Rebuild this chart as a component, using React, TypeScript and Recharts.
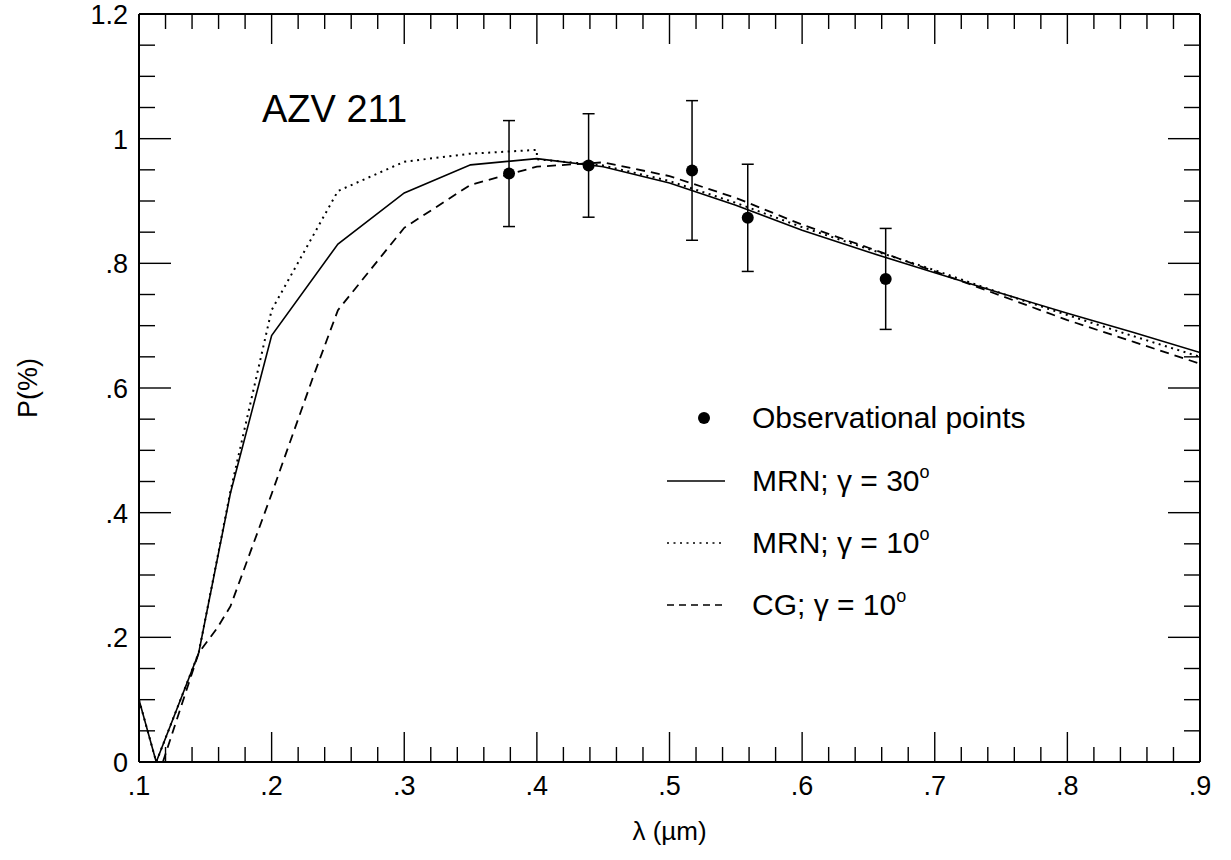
import React from 'react';
import { ComposedChart, Line, Scatter, XAxis, YAxis, ErrorBar, Legend } from 'recharts';

const FONT = '"Liberation Sans", Arial, Helvetica, sans-serif';

// ---- data ----
const mrn30Lambda = [0.1, 0.113, 0.145, 0.169, 0.2, 0.25, 0.3, 0.35, 0.4, 0.45, 0.5, 0.55, 0.6, 0.65, 0.7, 0.75, 0.8, 0.85, 0.9];
const mrn30P = [0.1, 0.0, 0.175, 0.432, 0.684, 0.831, 0.913, 0.958, 0.968, 0.955, 0.929, 0.893, 0.853, 0.818, 0.785, 0.752, 0.72, 0.689, 0.657];

const mrn10Lambda = [0.1, 0.113, 0.145, 0.169, 0.2, 0.25, 0.3, 0.35, 0.4, 0.4, 0.45, 0.5, 0.55, 0.6, 0.65, 0.7, 0.75, 0.8, 0.85, 0.9];
const mrn10P = [0.1, 0.0, 0.175, 0.435, 0.725, 0.916, 0.963, 0.976, 0.982, 0.967, 0.957, 0.932, 0.897, 0.858, 0.823, 0.789, 0.752, 0.717, 0.683, 0.65];

const cg10Lambda = [0.118, 0.145, 0.159, 0.169, 0.2, 0.231, 0.25, 0.3, 0.35, 0.4, 0.45, 0.5, 0.55, 0.6, 0.65, 0.7, 0.75, 0.8, 0.85, 0.9];
const cg10P = [0.0, 0.175, 0.215, 0.25, 0.43, 0.616, 0.725, 0.857, 0.926, 0.955, 0.962, 0.94, 0.905, 0.862, 0.825, 0.787, 0.748, 0.709, 0.674, 0.639];

const obsLambda = [0.379, 0.439, 0.517, 0.559, 0.663];
const obsP = [0.944, 0.957, 0.949, 0.873, 0.775];
const obsErr = [0.085, 0.083, 0.112, 0.086, 0.081];

const xTicks = [0.1, 0.12, 0.14, 0.16, 0.18, 0.2, 0.22, 0.24, 0.26, 0.28, 0.3, 0.32, 0.34, 0.36, 0.38, 0.4, 0.42, 0.44, 0.46, 0.48, 0.5, 0.52, 0.54, 0.56, 0.58, 0.6, 0.62, 0.64, 0.66, 0.68, 0.7, 0.72, 0.74, 0.76, 0.78, 0.8, 0.82, 0.84, 0.86, 0.88, 0.9];
const yTicks = [0, 0.05, 0.1, 0.15, 0.2, 0.25, 0.3, 0.35, 0.4, 0.45, 0.5, 0.55, 0.6, 0.65, 0.7, 0.75, 0.8, 0.85, 0.9, 0.95, 1, 1.05, 1.1, 1.15, 1.2];

const seriesNames = ['Observational points', 'MRN; \u03b3 = 30', 'MRN; \u03b3 = 10', 'CG; \u03b3 = 10'];
const chartTitle = 'AZV 211';
const xTitle = '\u03bb (\u00b5m)';
const yTitle = 'P(%)';

const mrn30 = mrn30Lambda.map((x, i) => ({ x, y: mrn30P[i] }));
const mrn10 = mrn10Lambda.map((x, i) => ({ x, y: mrn10P[i] }));
const cg10 = cg10Lambda.map((x, i) => ({ x, y: cg10P[i] }));
const obs = obsLambda.map((x, i) => ({ x, y: obsP[i], err: obsErr[i] }));

const isMajorX = (v: number) => Math.abs(v * 10 - Math.round(v * 10)) < 1e-6;
const isMajorY = (v: number) => Math.abs(v * 5 - Math.round(v * 5)) < 1e-6;
const fmt = (v: number) => {
  if (Math.abs(v) < 1e-9) return '0';
  if (Math.abs(v - 1) < 1e-9) return '1';
  return v.toFixed(1).replace(/^0/, '');
};

const TICK_FONT = 27;

const BottomTick = (props: any) => {
  const { x, y, payload } = props;
  const major = isMajorX(payload.value);
  return (
    <g>
      <line x1={x} y1={y} x2={x} y2={y - (major ? 30 : 15)} stroke="#000" strokeWidth={1.4} />
      {major && (
        <text x={x} y={y + 33} textAnchor="middle" fontFamily={FONT} fontSize={TICK_FONT} fill="#000">
          {fmt(payload.value)}
        </text>
      )}
    </g>
  );
};

const TopTick = (props: any) => {
  const { x, y, payload } = props;
  const major = isMajorX(payload.value);
  return <line x1={x} y1={y} x2={x} y2={y + (major ? 30 : 15)} stroke="#000" strokeWidth={1.4} />;
};

const LeftTick = (props: any) => {
  const { x, y, payload } = props;
  const major = isMajorY(payload.value);
  return (
    <g>
      <line x1={x} y1={y} x2={x + (major ? 32 : 16)} y2={y} stroke="#000" strokeWidth={1.4} />
      {major && (
        <text x={x - 11} y={y + 10} textAnchor="end" fontFamily={FONT} fontSize={TICK_FONT} fill="#000">
          {fmt(payload.value)}
        </text>
      )}
    </g>
  );
};

const RightTick = (props: any) => {
  const { x, y, payload } = props;
  const major = isMajorY(payload.value);
  return <line x1={x} y1={y} x2={x - (major ? 32 : 16)} y2={y} stroke="#000" strokeWidth={1.4} />;
};

const XTitle = (props: any) => {
  const vb = props.viewBox || {};
  return (
    <text x={vb.x + vb.width / 2} y={vb.y + 78} textAnchor="middle" fontFamily={FONT} fontSize={26} fill="#000">
      {xTitle}
    </text>
  );
};

const YTitle = (props: any) => {
  const vb = props.viewBox || {};
  const cx = vb.x + 37;
  const cy = vb.y + vb.height / 2;
  return (
    <text x={cx} y={cy} transform={`rotate(-90 ${cx} ${cy})`} textAnchor="middle" fontFamily={FONT} fontSize={27} fill="#000">
      {yTitle}
    </text>
  );
};

const LegendBox = () => {
  const rowY = [23, 86, 148, 210];
  const fs = 30;
  const textX = 92;
  const deg = (label: string, y: number) => (
    <text x={textX} y={y + 10} fontFamily={FONT} fontSize={fs} fill="#000">
      {label}
      <tspan dy={-13} fontSize={18}>o</tspan>
    </text>
  );
  return (
    <svg width={420} height={260} style={{ overflow: 'visible' }}>
      <circle cx={44} cy={rowY[0]} r={6} fill="#000" />
      <text x={textX} y={rowY[0] + 10} fontFamily={FONT} fontSize={fs} fill="#000">{seriesNames[0]}</text>
      <line x1={7} x2={65} y1={rowY[1]} y2={rowY[1]} stroke="#000" strokeWidth={1.6} />
      {deg(seriesNames[1], rowY[1])}
      <line x1={7} x2={65} y1={rowY[2]} y2={rowY[2]} stroke="#000" strokeWidth={1.6} strokeDasharray="2 4.5" />
      {deg(seriesNames[2], rowY[2])}
      <line x1={7} x2={65} y1={rowY[3]} y2={rowY[3]} stroke="#000" strokeWidth={1.6} strokeDasharray="7 5" />
      {deg(seriesNames[3], rowY[3])}
    </svg>
  );
};

const Dot = (props: any) => <circle cx={props.cx} cy={props.cy} r={6} fill="#000" />;

export default function App() {
  return (
    <div style={{ position: 'absolute', left: 0, top: 0, width: 1231, height: 860, background: '#fff' }}>
      <ComposedChart width={1231} height={860} margin={{ top: 13, right: 30, bottom: 8, left: 0 }}>
        <XAxis
          xAxisId="main"
          dataKey="x"
          type="number"
          domain={[0.1, 0.9]}
          allowDataOverflow
          ticks={xTicks}
          interval={0}
          height={90}
          tickSize={0}
          tickMargin={0}
          tickLine={false}
          tick={<BottomTick />}
          axisLine={{ stroke: '#000', strokeWidth: 2 }}
          label={<XTitle />}
        />
        <XAxis
          xAxisId="top"
          orientation="top"
          dataKey="x"
          type="number"
          domain={[0.1, 0.9]}
          allowDataOverflow
          ticks={xTicks}
          interval={0}
          height={1}
          tickSize={0}
          tickMargin={0}
          tickLine={false}
          tick={<TopTick />}
          axisLine={{ stroke: '#000', strokeWidth: 2 }}
        />
        <YAxis
          yAxisId="main"
          dataKey="y"
          type="number"
          domain={[0, 1.2]}
          allowDataOverflow
          ticks={yTicks}
          interval={0}
          width={139}
          tickSize={0}
          tickMargin={0}
          tickLine={false}
          tick={<LeftTick />}
          axisLine={{ stroke: '#000', strokeWidth: 2 }}
          label={<YTitle />}
        />
        <YAxis
          yAxisId="right"
          orientation="right"
          dataKey="y"
          type="number"
          domain={[0, 1.2]}
          allowDataOverflow
          ticks={yTicks}
          interval={0}
          width={1}
          tickSize={0}
          tickMargin={0}
          tickLine={false}
          tick={<RightTick />}
          axisLine={{ stroke: '#000', strokeWidth: 2 }}
        />
        <Line xAxisId="main" yAxisId="main" data={mrn30} dataKey="y" type="linear" stroke="#000" strokeWidth={1.6} dot={false} isAnimationActive={false} name={seriesNames[1]} />
        <Line xAxisId="main" yAxisId="main" data={mrn10} dataKey="y" type="linear" stroke="#000" strokeWidth={2} strokeDasharray="2 4.5" dot={false} isAnimationActive={false} name={seriesNames[2]} />
        <Line xAxisId="main" yAxisId="main" data={cg10} dataKey="y" type="linear" stroke="#000" strokeWidth={1.8} strokeDasharray="9 6" dot={false} isAnimationActive={false} name={seriesNames[3]} />
        <Scatter xAxisId="main" yAxisId="main" data={obs} dataKey="y" fill="#000" shape={<Dot />} isAnimationActive={false} name={seriesNames[0]}>
          <ErrorBar dataKey="err" direction="y" width={6} stroke="#000" strokeWidth={1.5} isAnimationActive={false} />
        </Scatter>
        <text x={262} y={122} fontFamily={FONT} fontSize={38} fill="#000">{chartTitle}</text>
        <Legend
          layout="vertical"
          align="center"
          verticalAlign="middle"
          content={<LegendBox />}
          wrapperStyle={{ position: 'absolute', left: 660, top: 395, width: 420, height: 260 }}
        />
      </ComposedChart>
    </div>
  );
}
